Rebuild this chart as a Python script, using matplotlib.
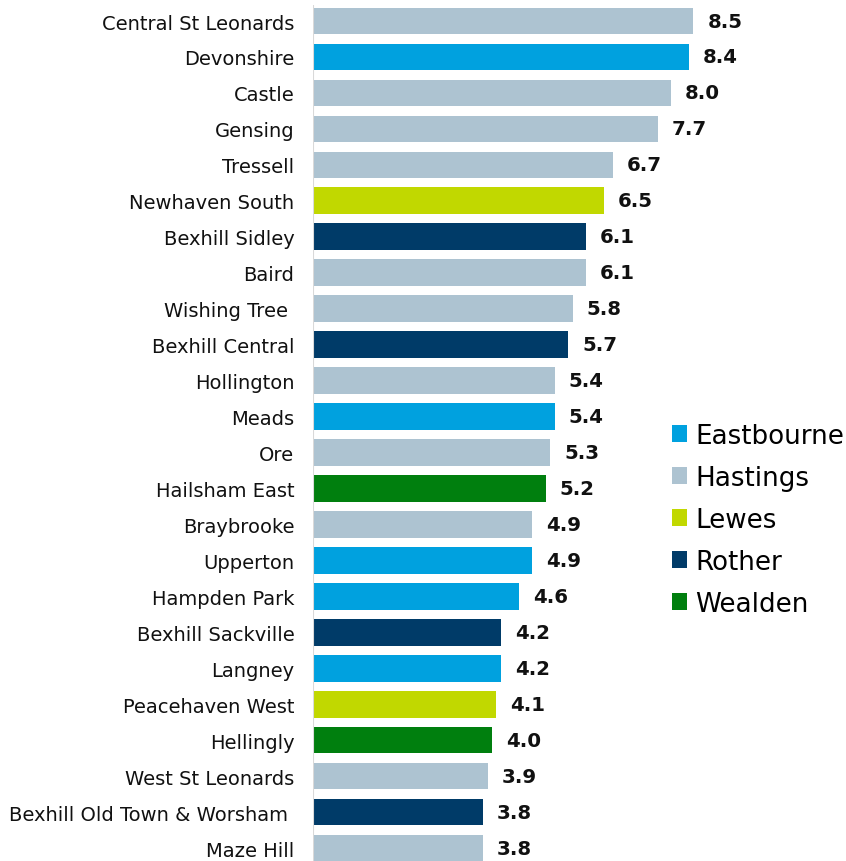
import matplotlib.pyplot as plt
from matplotlib.patches import Patch

wards = [
    "Central St Leonards", "Devonshire", "Castle", "Gensing", "Tressell",
    "Newhaven South", "Bexhill Sidley", "Baird", "Wishing Tree ",
    "Bexhill Central", "Hollington", "Meads", "Ore", "Hailsham East",
    "Braybrooke", "Upperton", "Hampden Park", "Bexhill Sackville", "Langney",
    "Peacehaven West", "Hellingly", "West St Leonards",
    "Bexhill Old Town & Worsham ", "Maze Hill",
]
values = [8.5, 8.4, 8.0, 7.7, 6.7, 6.5, 6.1, 6.1, 5.8, 5.7, 5.4, 5.4, 5.3,
          5.2, 4.9, 4.9, 4.6, 4.2, 4.2, 4.1, 4.0, 3.9, 3.8, 3.8]
districts = [
    "Hastings", "Eastbourne", "Hastings", "Hastings", "Hastings", "Lewes",
    "Rother", "Hastings", "Hastings", "Rother", "Hastings", "Eastbourne",
    "Hastings", "Wealden", "Hastings", "Eastbourne", "Eastbourne", "Rother",
    "Eastbourne", "Lewes", "Wealden", "Hastings", "Rother", "Hastings",
]

district_colours = {
    "Eastbourne": "#00A1DF",
    "Hastings": "#ADC3D1",
    "Lewes": "#C1D800",
    "Rother": "#003B68",
    "Wealden": "#007F0E",
}

fig = plt.figure(figsize=(8.46, 8.62), dpi=100)
ax = fig.add_axes([0.370, 0.0, 0.476, 1.0])

y = list(range(len(wards)))
colours = [district_colours[d] for d in districts]
ax.barh(y, values, height=0.74, color=colours)

for yi, v in zip(y, values):
    ax.annotate(f"{v:.1f}", (v, yi), xytext=(14, 0), textcoords="offset pixels",
                va="center", ha="left", fontsize=14.2, fontweight="bold",
                color="#111111")

ax.set_xlim(0, 9)
ax.set_ylim(23.36, -0.612)
ax.set_yticks(y)
ax.set_yticklabels(wards, fontsize=14, color="#111111")
ax.tick_params(axis="y", length=0, pad=13.5)
ax.set_xticks([])
for s in ax.spines.values():
    s.set_visible(False)
ax.vlines(0, -0.45, 23.6, color="#D9D9D9", linewidth=1.5)

handles = [Patch(facecolor=c, edgecolor="none") for c in district_colours.values()]
fig.legend(handles, list(district_colours.keys()), loc="center left",
           bbox_to_anchor=(0.794, 0.396), frameon=False, fontsize=18.8,
           handlelength=0.6, handleheight=0.6, handletextpad=0.3,
           labelspacing=0.61, borderaxespad=0, borderpad=0)

fig.savefig("out.png", dpi=100)
